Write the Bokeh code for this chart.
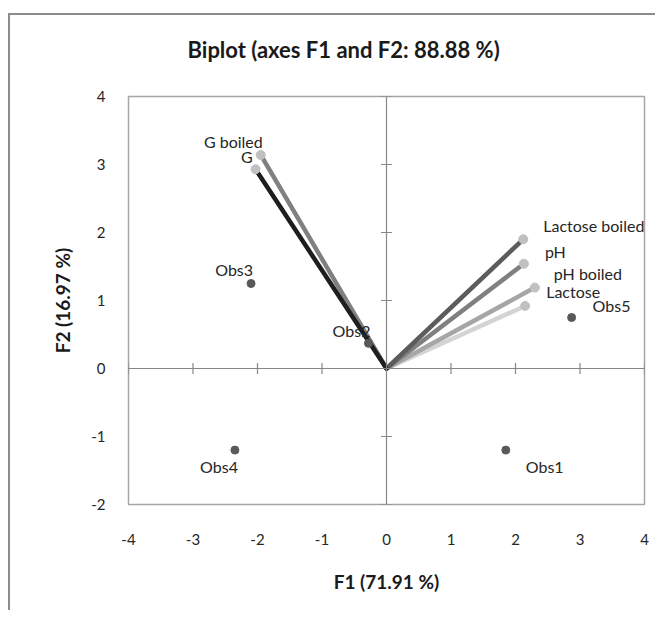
import math
from bokeh.plotting import figure
from bokeh.models import Span, ColumnDataSource, FixedTicker, Range1d, PrintfTickFormatter, Title
from bokeh.core.properties import value
from bokeh.embed import file_html
from bokeh.resources import INLINE

# ---- data ----
obs_names = ["Obs1", "Obs2", "Obs3", "Obs4", "Obs5"]
obs_f1 = [1.85, -0.28, -2.10, -2.35, 2.87]
obs_f2 = [-1.20, 0.37, 1.25, -1.20, 0.75]

var_names = ["Lactose", "pH boiled", "pH", "Lactose boiled", "G boiled", "G"]
var_f1 = [2.15, 2.30, 2.13, 2.12, -1.95, -2.03]
var_f2 = [0.92, 1.19, 1.54, 1.90, 3.14, 2.93]

x_ticks = [-4, -3, -2, -1, 0, 1, 2, 3, 4]
y_ticks = [-2, -1, 0, 1, 2, 3, 4]

title_text = "Biplot (axes F1 and F2: 88.88 %)"
x_label = "F1 (71.91 %)"
y_label = "F2 (16.97 %)"

# ---- styling ----
var_colors = {"Lactose": "#d4d4d4", "pH boiled": "#a6a6a6", "pH": "#808080",
              "Lactose boiled": "#5c5c5c", "G boiled": "#808080", "G": "#1e1e1e"}
# label placement: (align, dx px, dy px)
place = {
    "Obs1": ("left", 20, 16), "Obs2": ("right", 2, -13), "Obs3": ("right", 2, -14),
    "Obs4": ("right", 3, 16), "Obs5": ("left", 21, -12),
    "G": ("right", -3, -13), "G boiled": ("right", 2, -13),
    "Lactose boiled": ("left", 20, -14), "pH": ("left", 21, -12),
    "pH boiled": ("left", 19, -14), "Lactose": ("left", 21, -14),
}
FONT = "Lato"
AXC = "#878787"

p = figure(width=647, height=597, output_backend="svg", toolbar_location=None,
           x_range=Range1d(x_ticks[0], x_ticks[-1]), y_range=Range1d(y_ticks[0], y_ticks[-1]),
           min_border_left=118, min_border_right=13, min_border_top=81, min_border_bottom=108,
           styles={"margin-top": "13px", "margin-left": "8px",
                   "border-top": "2px solid #8c8c8c",
                   "border-left": "2px solid #8c8c8c"})

p.title.text = title_text
p.title.text_font = FONT
p.title.text_font_size = "22px"
p.title.text_font_style = "bold"
p.title.text_color = "#1a1a1a"
p.title.align = "left"
p.title.offset = 59
p.title.standoff = 10
# empty spacer between title and plot area
p.add_layout(Title(text=" ", text_font_size="1px", standoff=26), "above")

p.grid.visible = False
p.outline_line_color = "#a6a6a6"
p.outline_line_width = 1.5
p.background_fill_color = "white"
p.border_fill_color = "white"

for ax in (p.xaxis[0], p.yaxis[0]):
    ax.axis_line_color = None
    ax.major_tick_line_color = None
    ax.minor_tick_line_color = None
    ax.major_label_text_font = FONT
    ax.major_label_text_font_size = "15px"
    ax.major_label_text_color = "#262626"
    ax.axis_label_text_font = FONT
    ax.axis_label_text_font_size = "19px"
    ax.axis_label_text_font_style = "bold"
    ax.axis_label_text_color = "#1a1a1a"
    ax.formatter = PrintfTickFormatter(format="%d")
p.xaxis.ticker = FixedTicker(ticks=x_ticks)
p.yaxis.ticker = FixedTicker(ticks=y_ticks)
p.xaxis.axis_label = x_label
p.yaxis.axis_label = y_label
p.xaxis.major_label_standoff = 23
p.yaxis.major_label_standoff = 17
p.xaxis.axis_label_standoff = 22
p.yaxis.axis_label_standoff = 14

# central axes
p.add_layout(Span(location=0, dimension="width", line_color=AXC, line_width=1.2))
p.add_layout(Span(location=0, dimension="height", line_color=AXC, line_width=1.2))
xt = [t for t in x_ticks if t != 0]
yt = [t for t in y_ticks if t != 0]
p.scatter(xt, [0] * len(xt), marker="dash", size=11, angle=math.pi / 2,
          line_color=AXC, line_width=1.2)
p.scatter([0] * len(yt), yt, marker="dash", size=11, line_color=AXC, line_width=1.2)

# vectors
vsrc = ColumnDataSource(dict(x0=[0] * len(var_names), y0=[0] * len(var_names),
                             x1=var_f1, y1=var_f2,
                             c=[var_colors[n] for n in var_names]))
p.segment("x0", "y0", "x1", "y1", source=vsrc, line_color="c", line_width=4.5,
          line_cap="round")
p.scatter(var_f1, var_f2, size=9, fill_color="#c0c0c0", line_color="#c0c0c0")

# observations
p.scatter(obs_f1, obs_f2, size=8, fill_color="#595959", line_color="#595959")

# labels
names = obs_names + var_names
xs = obs_f1 + var_f1
ys = obs_f2 + var_f2
for align in ("left", "right"):
    idx = [i for i, n in enumerate(names) if place[n][0] == align]
    src = ColumnDataSource(dict(x=[xs[i] for i in idx], y=[ys[i] for i in idx],
                                t=[names[i] for i in idx],
                                dx=[place[names[i]][1] for i in idx],
                                dy=[place[names[i]][2] for i in idx]))
    p.text("x", "y", text="t", x_offset="dx", y_offset="dy", source=src,
           text_align=align, text_baseline="middle", text_font=value(FONT),
           text_font_size="16px", text_color="#262626")

open("out.html", "w").write(file_html(p, INLINE))
